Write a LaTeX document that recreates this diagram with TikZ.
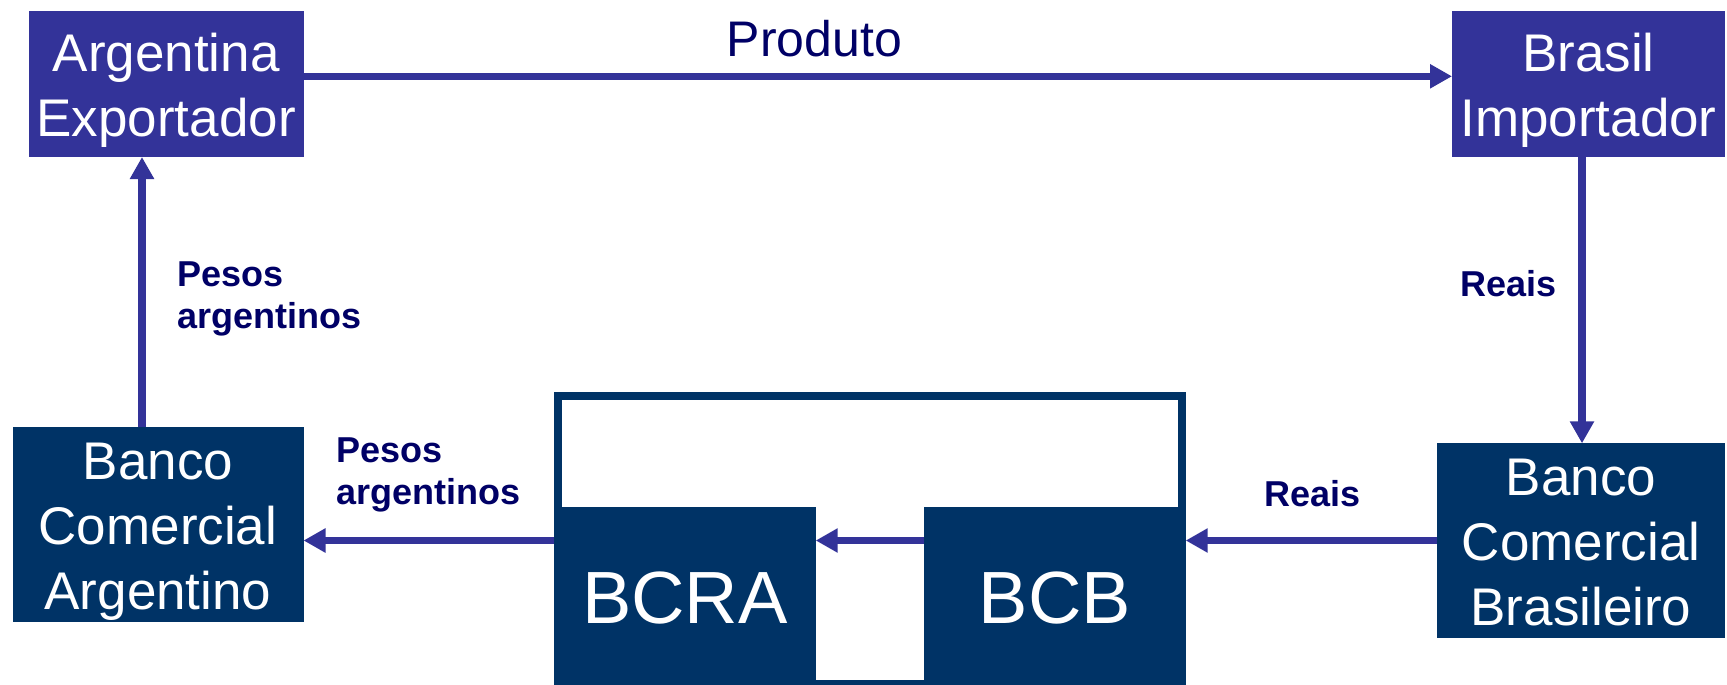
\documentclass[tikz,border=0pt]{standalone}
\usepackage{fontspec}
\setmainfont{Liberation Sans}
\usetikzlibrary{arrows.meta}
\definecolor{topblue}{RGB}{51,51,153}
\definecolor{navyb}{RGB}{0,51,102}
\definecolor{labelc}{RGB}{0,0,102}
\begin{document}
\begin{tikzpicture}[x=1pt,y=-1pt,
  boxtxt/.style={inner sep=0pt, outer sep=0pt, text=white, align=center,
    font=\fontsize{53}{65}\selectfont},
  topbox/.style={inner sep=0pt, outer sep=0pt, fill=topblue},
  lowbox/.style={inner sep=0pt, outer sep=0pt, fill=navyb},
  cbbox/.style={inner sep=0pt, outer sep=0pt, fill=navyb, text=white,
    font=\fontsize{74}{80}\selectfont},
  flow/.style={draw=topblue, line width=7.3pt, -{Triangle[length=22pt,width=23pt]}},
  lbl/.style={inner sep=0pt, outer sep=0pt, text=labelc, align=left,
    font=\fontsize{36}{42}\selectfont\bfseries}
]
\useasboundingbox (0,0) rectangle (1727,685);
\fill[white] (0,0) rectangle (1727,685);

% top boxes
\node[topbox, minimum width=274.8pt, minimum height=146pt,
  label={[boxtxt, yshift=-6.7pt]center:Argentina\\Exportador}] (arg) at (166.1,84) {};
\node[topbox, minimum width=273pt, minimum height=146pt,
  label={[boxtxt, yshift=-6.7pt]center:Brasil\\Importador}] (brimp) at (1588.5,84) {};

% commercial banks
\node[lowbox, minimum width=291pt, minimum height=194.4pt,
  label={[boxtxt, yshift=-7pt]center:Banco\\Comercial\\Argentino}] (barg) at (158,524.5) {};
\node[lowbox, minimum width=288pt, minimum height=194.4pt,
  label={[boxtxt, yshift=-2.2pt]center:Banco\\Comercial\\Brasileiro}] (bbr) at (1581,540.5) {};

% central banks
\node[cbbox, minimum width=261.7pt, minimum height=183.3pt] (bcra) at (684.85,598.35) {BCRA};
\node[cbbox, minimum width=261.7pt, minimum height=183.3pt] (bcb) at (1054.85,598.35) {BCB};
\node[draw=navyb, line width=8pt, outer sep=4pt, inner sep=0pt,
  minimum width=623.7pt, minimum height=287.7pt] (frame) at (869.85,540.15) {};

% helper coordinates
\coordinate (yprod) at (0,76.3);
\coordinate (ylev) at (0,540.5);
\coordinate (xup) at (142,0);
\coordinate (xdn) at (1582,0);

% connectors
\draw[flow] (arg.east |- yprod) -- (brimp.west |- yprod);
\draw[flow] (xdn |- brimp.south) -- (xdn |- bbr.north);
\draw[flow] (bbr.west |- ylev) -- (frame.east |- ylev);
\draw[flow] (bcb.west |- ylev) -- (bcra.east |- ylev);
\draw[flow] (frame.west |- ylev) -- (barg.east |- ylev);
\draw[flow] (xup |- barg.north) -- (xup |- arg.south);

% labels
\node[inner sep=0pt, text=labelc, anchor=base, font=\fontsize{50}{60}\selectfont] (lprod) at (814.5,56.7) {Produto};
\node[lbl, anchor=base west] (lreais1) at (1460.8,296.7) {Reais};
\node[lbl, anchor=base west] (lreais2) at (1264.5,506.7) {Reais};
\node[lbl, anchor=west] (lpesos1) at (177.5,299) {Pesos\\argentinos};
\node[lbl, anchor=west] (lpesos2) at (336.5,475.4) {Pesos\\argentinos};
\end{tikzpicture}
\end{document}
